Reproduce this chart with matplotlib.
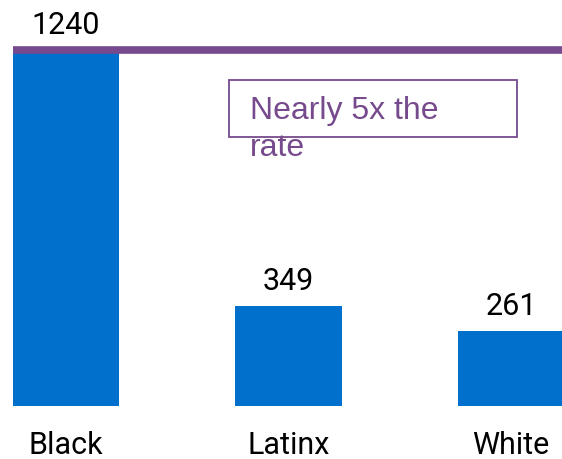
import matplotlib as mpl
import matplotlib.pyplot as plt
from matplotlib.patches import Rectangle

groups = ['Black', 'Latinx', 'White']
rates = [1240, 349, 261]
ref_rate = 1240
note = 'Nearly 5x the\nrate'

bar_color = '#0070CC'
purple = '#764A8C'

fig = plt.figure(figsize=(5.62, 4.59), dpi=100)
ax = fig.add_axes([0, 53 / 459, 1, 406 / 459])

pos = list(range(len(groups)))
rects = ax.bar(pos, rates, 0.48, color=bar_color, zorder=2)

ax.set_xlim(-0.297, 2.229)
ax.set_ylim(0, 1414)

# reference line at the Black rate
ax.plot([-0.24, 2.229], [ref_rate, ref_rate], color=purple, lw=5.5,
        solid_capstyle='butt', zorder=3, clip_on=False)

for rect in rects:
    h = rect.get_height()
    ax.annotate('%d' % h, (rect.get_x() + rect.get_width() / 2, h),
                xytext=(0, 11.5), textcoords='offset points',
                ha='center', va='baseline', fontsize=22, family='Roboto')

# annotation box
ax.add_patch(Rectangle((229 / 562, (406 - 137) / 406), 288 / 562, 57 / 406,
                       transform=ax.transAxes, fill=False, edgecolor=purple,
                       lw=1.3, zorder=4))
ax.text(250 / 562, (406 - 96) / 406, note, transform=ax.transAxes,
        ha='left', va='top', fontsize=23, color=purple,
        family='Liberation Sans', linespacing=1.3, zorder=5)

ax.set_xticks(pos)
ax.set_xticklabels(groups, fontsize=22, family='Roboto')
ax.tick_params(axis='x', length=0, pad=18)
ax.set_yticks([])
for s in ax.spines.values():
    s.set_visible(False)

fig.savefig('out.png', dpi=100)
